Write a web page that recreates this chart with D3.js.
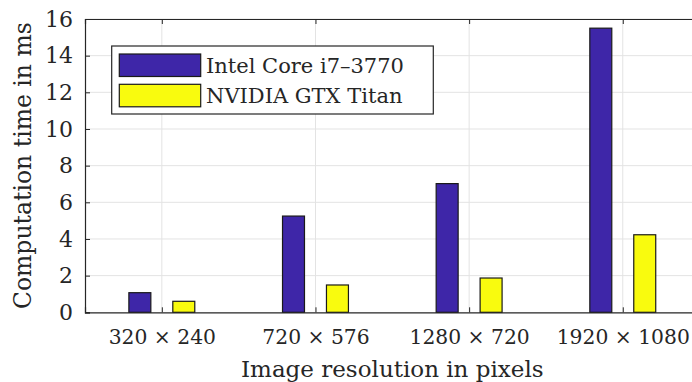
<!DOCTYPE html>
<html>
<head>
<meta charset="utf-8">
<script src="https://cdn.jsdelivr.net/npm/d3@7"></script>
<style>
  html, body { margin: 0; padding: 0; background: #fff; }
  svg { display: block; }
  text { font-family: "DejaVu Serif", "Liberation Serif", serif; fill: #262626; }
</style>
</head>
<body>
<svg id="chart" width="692" height="382"></svg>
<script>
const categories = ["320 × 240", "720 × 576", "1280 × 720", "1920 × 1080"];
const seriesNames = ["Intel Core i7–3770", "NVIDIA GTX Titan"];
const intelValues = [1.07, 5.25, 7.02, 15.5];
const titanValues = [0.6, 1.49, 1.87, 4.23];
const yTicks = [0, 2, 4, 6, 8, 10, 12, 14, 16];
const colors = ["#3e26a8", "#f9fb0e"];
const yLabel = "Computation time in ms";
const xLabel = "Image resolution in pixels";

const svg = d3.select("#chart");
const pL = 85, pR = 699.6, pT = 19, pB = 312.3;

const x = d3.scaleLinear().domain([0.5, 4.5]).range([pL, pR]);
const y = d3.scaleLinear().domain([0, 16]).range([pB, pT]);

const g = svg.append("g");

// grid
g.selectAll(".hgrid").data(yTicks.slice(1)).enter().append("line")
  .attr("x1", pL).attr("x2", pR)
  .attr("y1", d => y(d)).attr("y2", d => y(d))
  .attr("stroke", "#e3e3e3").attr("stroke-width", 1);
g.selectAll(".vgrid").data(categories).enter().append("line")
  .attr("x1", (d, i) => x(i + 1)).attr("x2", (d, i) => x(i + 1))
  .attr("y1", pT).attr("y2", pB)
  .attr("stroke", "#e3e3e3").attr("stroke-width", 1);

// bars
const barW = 0.143, off = 0.143;
const series = [intelValues, titanValues];
series.forEach((vals, s) => {
  g.selectAll(".bar" + s).data(vals).enter().append("rect")
    .attr("x", (d, i) => x(i + 1 + (s === 0 ? -off : off) - barW / 2))
    .attr("width", x(barW) - x(0))
    .attr("y", d => y(d))
    .attr("height", d => y(0) - y(d))
    .attr("fill", colors[s])
    .attr("stroke", "#1a1a1a").attr("stroke-width", 1.2);
});

// axes
const yAxis = d3.axisLeft(y).tickValues(yTicks).tickSize(-5).tickPadding(12).tickFormat(d3.format("d"));
const yG = g.append("g").attr("transform", `translate(${pL},0)`).call(yAxis);
yG.select(".domain").attr("stroke", "#262626").attr("stroke-width", 1.2);
yG.selectAll(".tick line").attr("stroke", "#262626");
yG.selectAll("text").attr("font-size", 22).attr("font-family", "DejaVu Serif").attr("fill", "#262626");

const xAxis = d3.axisBottom(x).tickValues([1, 2, 3, 4]).tickSize(-5).tickPadding(17)
  .tickFormat((d, i) => categories[i]);
const xG = g.append("g").attr("transform", `translate(0,${pB})`).call(xAxis);
xG.select(".domain").attr("stroke", "#262626").attr("stroke-width", 1.2);
xG.selectAll(".tick line").attr("stroke", "#262626");
xG.selectAll("text").attr("font-size", 20.3).attr("font-family", "DejaVu Serif").attr("fill", "#262626");

const xTop = d3.axisTop(x).tickValues([1, 2, 3, 4]).tickSize(-5).tickFormat("");
const xtG = g.append("g").attr("transform", `translate(0,${pT})`).call(xTop);
xtG.select(".domain").attr("stroke", "#262626").attr("stroke-width", 1.2);
xtG.selectAll(".tick line").attr("stroke", "#262626");

// labels
svg.append("text")
  .attr("transform", `translate(31,${(pT + pB) / 2}) rotate(-90)`)
  .attr("text-anchor", "middle")
  .attr("font-size", 23.5)
  .text(yLabel);
svg.append("text")
  .attr("x", (pL + pR) / 2).attr("y", 376.5)
  .attr("text-anchor", "middle")
  .attr("font-size", 23)
  .text(xLabel);

// legend
const lg = svg.append("g");
lg.append("rect").attr("x", 111.7).attr("y", 46).attr("width", 321.6).attr("height", 68)
  .attr("fill", "#fff").attr("stroke", "#262626").attr("stroke-width", 1.2);
seriesNames.forEach((name, i) => {
  const yy = 54 + i * 30.3;
  lg.append("rect").attr("x", 119.3).attr("y", yy).attr("width", 81.4).attr("height", 22.5)
    .attr("fill", colors[i]).attr("stroke", "#1a1a1a").attr("stroke-width", 1.2);
  lg.append("text").attr("x", 206).attr("y", yy + 19)
    .attr("font-size", 21).text(name);
});
</script>
</body>
</html>
